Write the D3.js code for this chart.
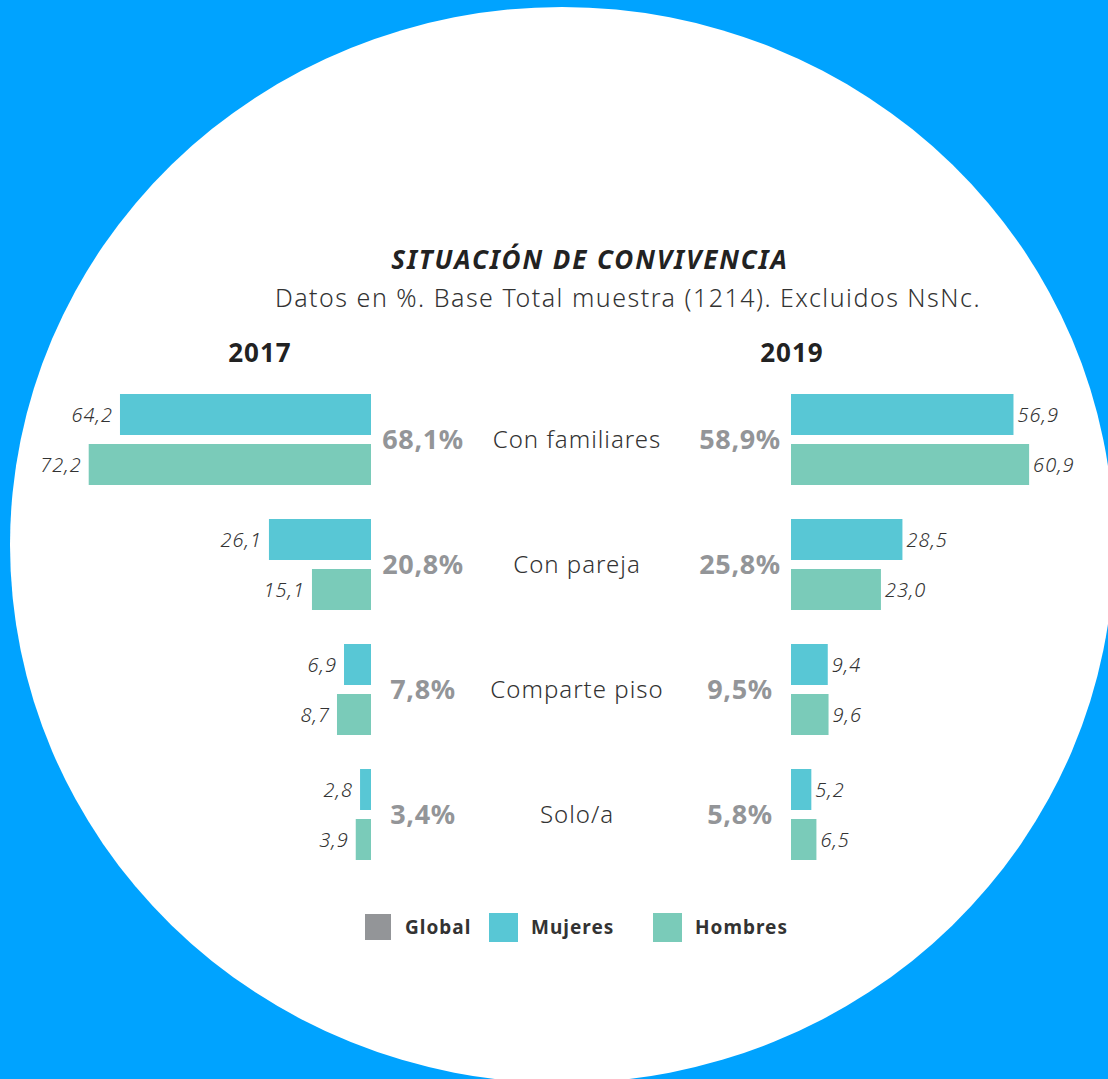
<html>
<head>
  <meta charset="utf-8">
  <title>Situación de convivencia</title>
  <script src="https://d3js.org/d3.v7.min.js"></script>
  <style>
    body { margin: 0; background: #00a3ff; }
    text { font-family: "Noto Sans", sans-serif; }
  </style>
</head>
<body>
  <div id="vis"></div>

  <script type="text/javascript">

    // Data
    var categories = ['Con familiares', 'Con pareja', 'Comparte piso', 'Solo/a'];
    var series = ['Mujeres', 'Hombres'];
    var mujeres2017 = [64.2, 26.1, 6.9, 2.8];
    var hombres2017 = [72.2, 15.1, 8.7, 3.9];
    var global2017 = [68.1, 20.8, 7.8, 3.4];
    var mujeres2019 = [56.9, 28.5, 9.4, 5.2];
    var hombres2019 = [60.9, 23.0, 9.6, 6.5];
    var global2019 = [58.9, 25.8, 9.5, 5.8];
    var legendItems = ['Global', 'Mujeres', 'Hombres'];

    var colors = {Global: '#939598', Mujeres: '#58c7d5', Hombres: '#7acbb9'};
    var fmt = function(v) { return d3.format('.1f')(v).replace('.', ','); };

    var width = 1108, height = 1079;

    var svg = d3.select('#vis')
                .append('svg')
                  .attr('width', width)
                  .attr('height', height);

    svg.append('rect')
         .attr('width', width)
         .attr('height', height)
         .style('fill', '#00a3ff');

    svg.append('ellipse')
         .attr('cx', 562)
         .attr('cy', 545)
         .attr('rx', 552)
         .attr('ry', 538)
         .style('fill', '#fff');

    // Titles
    svg.append('text')
         .text('SITUACIÓN DE CONVIVENCIA')
         .attr('x', 590)
         .attr('y', 269)
         .attr('text-anchor', 'middle')
         .style('font-size', '26px')
         .style('font-weight', 'bold')
         .style('font-style', 'italic')
         .style('letter-spacing', '1.9px')
         .style('fill', '#222');

    svg.append('text')
         .text('Datos en %. Base Total muestra (1214). Excluidos NsNc.')
         .attr('x', 628)
         .attr('y', 307)
         .attr('text-anchor', 'middle')
         .style('font-size', '25px')
         .style('font-weight', 300)
         .style('letter-spacing', '1.5px')
         .style('fill', '#333');

    // Scales
    var y = d3.scaleBand().domain(categories).range([394, 860]).paddingInner(0.272);
    var ySub = d3.scaleBand().domain(series).range([0, y.bandwidth()]).paddingInner(0.18);
    var xLeft = d3.scaleLinear().domain([0, 100]).range([371, 371 - 391]);
    var xRight = d3.scaleLinear().domain([0, 100]).range([791, 791 + 391]);

    function drawSide(x, mujeres, hombres, global, year, yearX, globalX, side) {
      svg.append('text')
           .text(year)
           .attr('x', yearX)
           .attr('y', 362)
           .attr('text-anchor', 'middle')
           .style('font-size', '26px')
           .style('font-weight', 'bold')
           .style('letter-spacing', '1px')
           .style('fill', '#222');

      var rows = [];
      categories.forEach(function(c, i) {
        rows.push({cat: c, s: 'Mujeres', v: mujeres[i]});
        rows.push({cat: c, s: 'Hombres', v: hombres[i]});
      });

      var g = svg.append('g');

      g.selectAll('rect')
         .data(rows)
         .enter().append('rect')
           .attr('x', function(d) { return Math.min(x(0), x(d.v)); })
           .attr('y', function(d) { return y(d.cat) + ySub(d.s); })
           .attr('width', function(d) { return Math.abs(x(d.v) - x(0)); })
           .attr('height', ySub.bandwidth())
           .style('fill', function(d) { return colors[d.s]; });

      g.selectAll('text.val')
         .data(rows)
         .enter().append('text')
           .attr('class', 'val')
           .text(function(d) { return fmt(d.v); })
           .attr('x', function(d) { return x(d.v) + (side === 'left' ? -7 : 4); })
           .attr('y', function(d) { return y(d.cat) + ySub(d.s) + ySub.bandwidth() / 2; })
           .attr('dy', '0.36em')
           .attr('text-anchor', side === 'left' ? 'end' : 'start')
           .style('font-size', '20px')
           .style('font-weight', 300)
           .style('font-style', 'italic')
           .style('letter-spacing', '1px')
           .style('fill', '#333');

      g.selectAll('text.glob')
         .data(categories)
         .enter().append('text')
           .attr('class', 'glob')
           .text(function(d, i) { return fmt(global[i]) + '%'; })
           .attr('x', globalX)
           .attr('y', function(d) { return y(d) + y.bandwidth() / 2; })
           .attr('dy', '0.36em')
           .attr('text-anchor', 'middle')
           .style('font-size', '27px')
           .style('font-weight', 'bold')
           .style('letter-spacing', '0.6px')
           .style('fill', colors.Global);
    }

    drawSide(xLeft, mujeres2017, hombres2017, global2017, '2017', 260, 423, 'left');
    drawSide(xRight, mujeres2019, hombres2019, global2019, '2019', 792, 740, 'right');

    // Category labels in the middle
    svg.selectAll('text.cat')
         .data(categories)
         .enter().append('text')
           .attr('class', 'cat')
           .text(function(d) { return d; })
           .attr('x', 577)
           .attr('y', function(d) { return y(d) + y.bandwidth() / 2; })
           .attr('dy', '0.36em')
           .attr('text-anchor', 'middle')
           .style('font-size', '24px')
           .style('font-weight', 300)
           .style('letter-spacing', '1px')
           .style('fill', '#333');

    // Legend
    var legendX = {Global: 365, Mujeres: 489, Hombres: 653};
    var legendTextX = {Global: 405, Mujeres: 531, Hombres: 695};

    var legend = svg.append('g').attr('class', 'legend');

    legend.selectAll('rect')
            .data(legendItems)
            .enter().append('rect')
              .attr('x', function(d) { return legendX[d]; })
              .attr('y', function(d) { return d === 'Global' ? 914 : 913; })
              .attr('width', function(d) { return d === 'Global' ? 26 : 29; })
              .attr('height', function(d) { return d === 'Global' ? 26 : 29; })
              .style('fill', function(d) { return colors[d]; });

    legend.selectAll('text')
            .data(legendItems)
            .enter().append('text')
              .text(function(d) { return d; })
              .attr('x', function(d) { return legendTextX[d]; })
              .attr('y', 927)
              .attr('dy', '0.36em')
              .style('font-size', '19px')
              .style('font-weight', 'bold')
              .style('letter-spacing', '1px')
              .style('fill', '#333');

  </script>
</body>
</html>
